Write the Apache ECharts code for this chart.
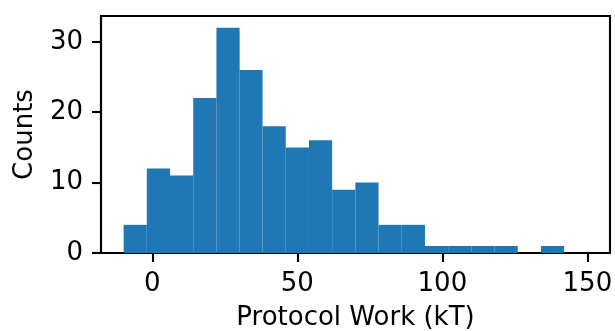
<!DOCTYPE html>
<html><head><meta charset="utf-8">
<script src="https://cdn.jsdelivr.net/npm/echarts@6/dist/echarts.min.js"></script>
<style>html,body{margin:0;padding:0;background:#fff}#c{width:615px;height:331px}</style>
</head><body><div id="c"></div>
<script>
// Histogram bin edges (kT) and counts
const binEdges = [-9.9, -1.9, 6.1, 14.1, 22.1, 30.1, 38.0, 46.0, 54.0, 62.0, 70.0, 78.0, 86.0, 94.0, 102.0, 110.0, 118.0, 126.0, 134.0, 142.0];
const counts = [4, 12, 11, 22, 32, 26, 18, 15, 16, 9, 10, 4, 4, 1, 1, 1, 1, 0, 1];
const xTicks = [0, 50, 100, 150];
const yTicks = [0, 10, 20, 30];

const data = counts.map((c, i) => [binEdges[i], binEdges[i + 1], c]);
const font = 'DejaVu Sans';
const fs = 26;
const lw = 2.1;
const chart = echarts.init(document.getElementById('c'), null, {renderer: 'canvas'});
chart.setOption({
  animation: false,
  grid: {left: 101, right: 5, top: 16, bottom: 78, containLabel: false, outerBoundsMode: 'none', show: true, borderColor: '#000', borderWidth: lw, backgroundColor: 'transparent'},
  xAxis: {
    type: 'value', min: -17.7, max: 157.8,
    name: 'Protocol Work (kT)', nameLocation: 'middle', nameGap: 52,
    nameTextStyle: {fontFamily: font, fontSize: fs, color: '#000'},
    axisLine: {show: true, onZero: false, lineStyle: {color: '#000', width: lw}},
    axisTick: {show: true, inside: false, length: 9, lineStyle: {color: '#000', width: lw}, customValues: xTicks},
    axisLabel: {fontFamily: font, fontSize: fs, color: '#000', margin: 18, customValues: xTicks},
    splitLine: {show: false}
  },
  yAxis: {
    type: 'value', min: 0, max: 33.66,
    name: 'Counts', nameLocation: 'middle', nameGap: 63, nameRotate: 90,
    nameTextStyle: {fontFamily: font, fontSize: fs, color: '#000'},
    axisLine: {show: true, onZero: false, lineStyle: {color: '#000', width: lw}},
    axisTick: {show: true, inside: false, length: 9, lineStyle: {color: '#000', width: lw}, customValues: yTicks},
    axisLabel: {fontFamily: font, fontSize: fs, color: '#000', margin: 18, customValues: yTicks},
    splitLine: {show: false}
  },
  series: [{
    type: 'custom',
    data: data,
    encode: {x: [0, 1], y: 2},
    renderItem: function (params, api) {
      const p0 = api.coord([api.value(0), 0]);
      const p1 = api.coord([api.value(1), api.value(2)]);
      return {
        type: 'rect',
        shape: {x: p0[0], y: p1[1], width: p1[0] - p0[0], height: p0[1] - p1[1]},
        style: {fill: '#1f77b4'}
      };
    }
  }]
});
</script></body></html>
